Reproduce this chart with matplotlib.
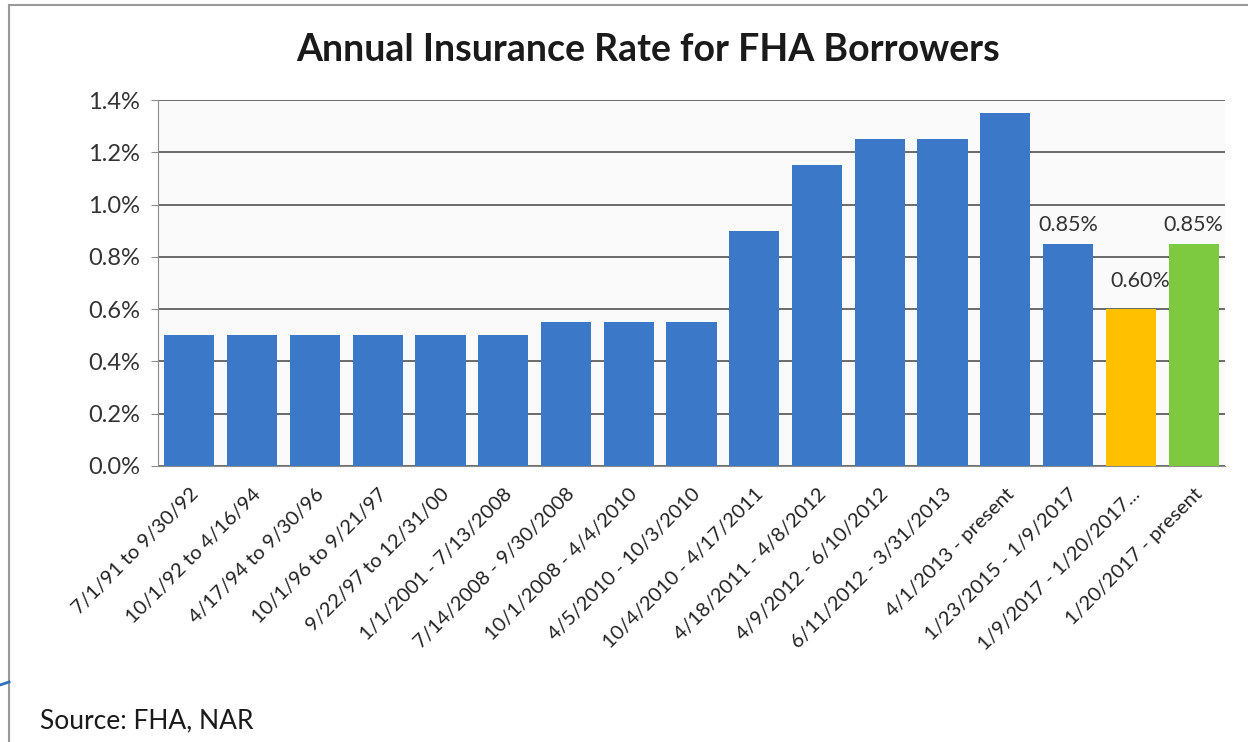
import matplotlib
matplotlib.use("Agg")
import matplotlib.pyplot as plt
from matplotlib.ticker import FuncFormatter, MultipleLocator
from matplotlib.lines import Line2D

periods = [
    "7/1/91 to 9/30/92", "10/1/92 to 4/16/94", "4/17/94 to 9/30/96",
    "10/1/96 to 9/21/97", "9/22/97 to 12/31/00", "1/1/2001 - 7/13/2008",
    "7/14/2008 - 9/30/2008", "10/1/2008 - 4/4/2010", "4/5/2010 - 10/3/2010",
    "10/4/2010 - 4/17/2011", "4/18/2011 - 4/8/2012", "4/9/2012 - 6/10/2012",
    "6/11/2012 - 3/31/2013", "4/1/2013 - present", "1/23/2015 - 1/9/2017",
    "1/9/2017 - 1/20/2017...", "1/20/2017 - present",
]
rates = [0.50, 0.50, 0.50, 0.50, 0.50, 0.50, 0.55, 0.55, 0.55,
         0.90, 1.15, 1.25, 1.25, 1.35, 0.85, 0.60, 0.85]
bar_colors = ["#3B78C8"] * 15 + ["#FFC000", "#7DC940"]
labeled = [14, 15, 16]

plt.rcParams['font.family'] = ['Lato', 'DejaVu Sans']

fig = plt.figure(figsize=(12.48, 7.42), dpi=100)
ax = fig.add_axes([0.1266, 0.372, 0.855, 0.493])

x = list(range(len(rates)))
ax.bar(x, rates, width=0.8, color=bar_colors, zorder=3)
for i in labeled:
    dx = 0.15 if i == 15 else 0.0
    dy = 0.07 if i == 15 else 0.035
    ax.text(x[i] + dx, rates[i] + dy, f"{rates[i]:.2f}%", ha='center', va='bottom',
            fontsize=15.5, color='#333333', zorder=4)

ax.set_xlim(-0.5, len(rates) - 0.5)
ax.set_ylim(0, 1.4)
ax.yaxis.set_major_locator(MultipleLocator(0.2))
ax.yaxis.set_major_formatter(FuncFormatter(lambda v, p: f"{v:.1f}%"))
ax.grid(axis='y', color='#6a6a6a', linewidth=1.4, zorder=1)
ax.set_axisbelow(True)
for s in ['top', 'right']:
    ax.spines[s].set_visible(False)
for s in ['left', 'bottom']:
    ax.spines[s].set_color('#8c8c8c')
ax.set_facecolor('#fafafa')

ax.set_xticks(x)
ax.set_xticklabels(periods, rotation=45, ha='right', rotation_mode='anchor',
                   fontsize=14.5, color='#222222')
ax.tick_params(axis='x', length=0, pad=14)
ax.tick_params(axis='y', labelsize=17, colors='#8c8c8c', labelcolor='#333333',
               length=5, direction='out', pad=8)

fig.text(0.519, 0.932, "Annual Insurance Rate for FHA Borrowers", ha='center',
         va='center', fontsize=27, fontweight='bold', color='#1a1a1a')
fig.text(0.032, 0.028, "Source: FHA, NAR", ha='left', va='center', fontsize=19,
         color='#1a1a1a')

# slide frame lines
fig.add_artist(Line2D([9 / 1248, 9 / 1248], [0, 1 - 5 / 742], transform=fig.transFigure,
                      color='#9a9a9a', linewidth=1.5))
fig.add_artist(Line2D([9 / 1248, 1], [1 - 5 / 742, 1 - 5 / 742], transform=fig.transFigure,
                      color='#9a9a9a', linewidth=1.5))
fig.add_artist(Line2D([0, 9 / 1248], [1 - 685 / 742, 1 - 682 / 742], transform=fig.transFigure,
                      color='#2f6fc0', linewidth=2))

fig.savefig("out.png", dpi=100)
